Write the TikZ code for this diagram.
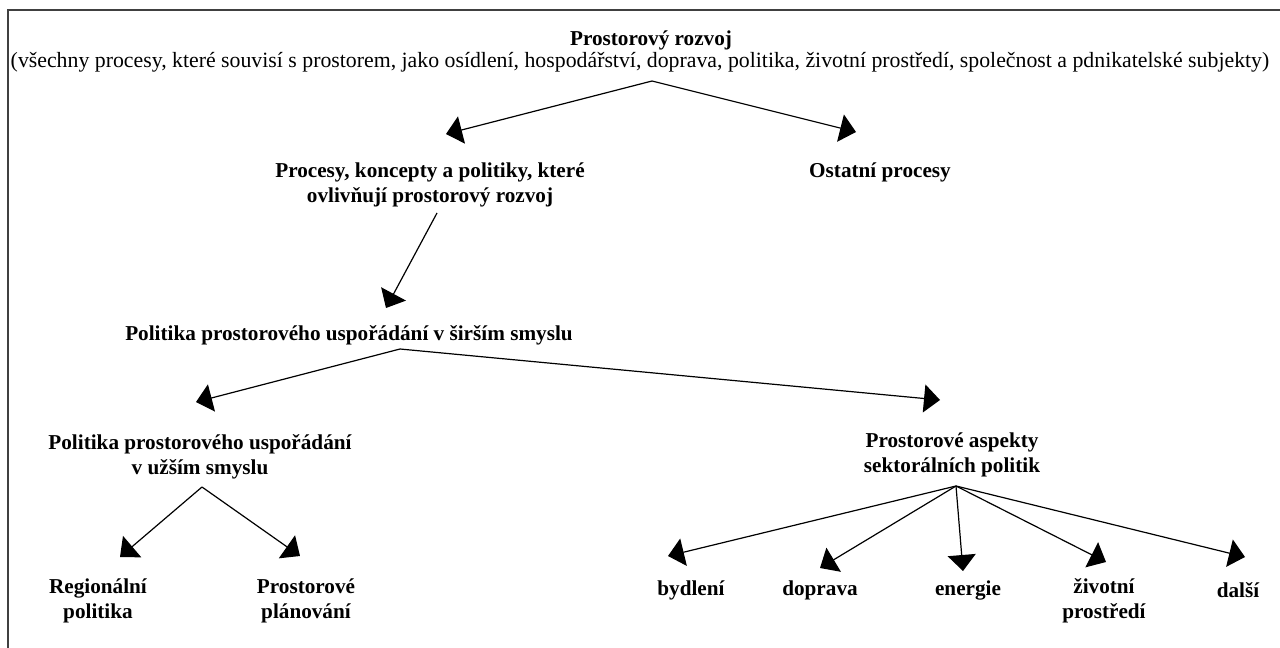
\documentclass[tikz,border=0pt]{standalone}
\usepackage{fontspec}
\setmainfont{Liberation Serif}
\usetikzlibrary{arrows.meta}

\begin{document}
\begin{tikzpicture}[
    x = 0.5pt, y = -0.5pt,
    every node/.style = {inner sep = 0pt, align = center},
    box/.style   = {font = \fontsize{10.6}{12.4}\selectfont\bfseries},
    note/.style  = {font = \fontsize{10.9}{12.4}\selectfont},
    arr/.style   = {line width = 0.6pt,
                    -{Triangle[length = 8pt, width = 14pt]}},
    frame/.style = {line width = 0.8pt, black!75}
  ]

  % The page: fixed size, the frame is cut off at right and bottom

  \useasboundingbox (0, 0) rectangle (1280, 648);
  \draw[frame] (8, 660) -- (8, 10) -- (1290, 10);

  % Top level: spatial development and its note

  \node[box]  (root)     at (651, 40) {Prostorový rozvoj};
  \node[note] (rootnote) at (640, 62) {(všechny procesy, které souvisí s prostorem, jako osídlení, hospodářství, doprava, politika, životní prostředí, společnost a pdnikatelské subjekty)};
  \coordinate (rootfan) at (652, 81);

  % Second level

  \node[box] (procesy) at (430, 185) {Procesy, koncepty a politiky, které\\ovlivňují prostorový rozvoj};
  \node[box] (ostatni) at (880, 172) {Ostatní procesy};
  \coordinate (procesy-in) at (446, 134);
  \coordinate (ostatni-in) at (856, 132);
  \coordinate (procesyfan) at (437, 213);

  % Third level: policy in the broad sense

  \node[box] (sirsi) at (349, 335) {Politika prostorového uspořádání v širším smyslu};
  \coordinate (sirsi-in)  at (386, 308);
  \coordinate (sirsifan)  at (400, 349);

  % Fourth level: narrow sense and sectoral aspects

  \node[box] (uzsi)    at (200, 457) {Politika prostorového uspořádání\\v užším smyslu};
  \node[box] (aspekty) at (952, 455) {Prostorové aspekty\\sektorálních politik};
  \coordinate (uzsi-in)    at (196, 402);
  \coordinate (aspekty-in) at (940, 400);
  \coordinate (uzsifan)    at (202, 487);
  \coordinate (aspektyfan) at (956, 486);

  % Leaves

  \node[box] (regional)  at ( 98, 601) {Regionální\\politika};
  \node[box] (planovani) at (306, 601) {Prostorové\\plánování};
  \coordinate (regional-in)  at (120, 557);
  \coordinate (planovani-in) at (300, 556);

  \node[box] (bydleni) at ( 691, 590) {bydlení};
  \node[box] (doprava) at ( 820, 590) {doprava};
  \node[box] (energie) at ( 968, 590) {energie};
  \node[box] (zivotni) at (1104, 601) {životní\\prostředí};
  \node[box] (dalsi)   at (1238, 590) {další};
  \coordinate (bydleni-in) at ( 668, 556);
  \coordinate (doprava-in) at ( 820, 568);
  \coordinate (energie-in) at ( 963, 571);
  \coordinate (zivotni-in) at (1106, 562);
  \coordinate (dalsi-in)   at (1245, 557);

  % Connectors: each fans out from one point below its parent

  \draw[arr] (rootfan) -- (procesy-in);
  \draw[arr] (rootfan) -- (ostatni-in);
  \draw[arr] (procesyfan) -- (sirsi-in);
  \draw[arr] (sirsifan) -- (uzsi-in);
  \draw[arr] (sirsifan) -- (aspekty-in);
  \draw[arr] (uzsifan) -- (regional-in);
  \draw[arr] (uzsifan) -- (planovani-in);

  \foreach \leaf in {bydleni, doprava, energie, zivotni, dalsi}
    \draw[arr] (aspektyfan) -- (\leaf-in);

\end{tikzpicture}
\end{document}
